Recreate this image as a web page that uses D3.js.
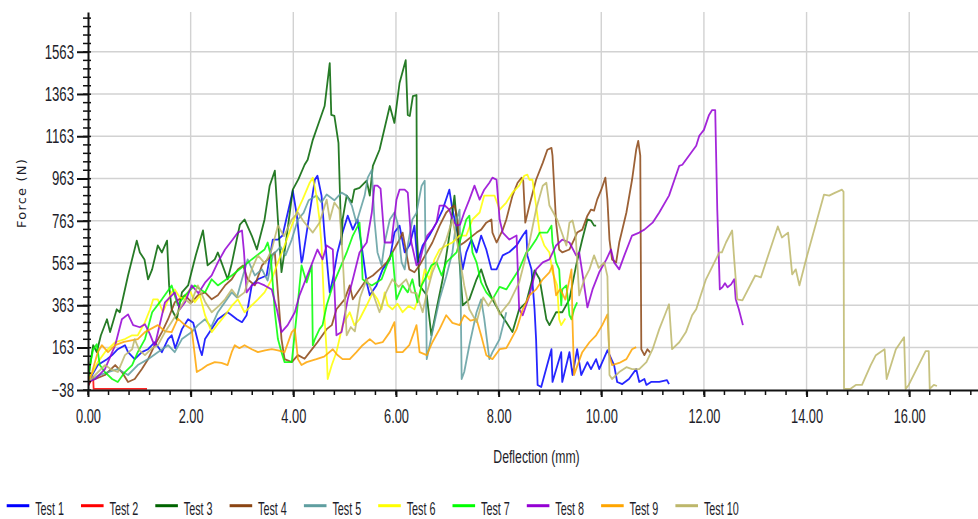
<!DOCTYPE html>
<html>
<head>
<meta charset="utf-8">
<script src="https://cdn.jsdelivr.net/npm/d3@7"></script>
<style>
body { margin: 0; background: #fff; }
svg { display: block; }
</style>
</head>
<body>
<svg width="978" height="519"></svg>
<script>
// deflection (mm), force (N)
var names = ["Test 1", "Test 2", "Test 3", "Test 4", "Test 5", "Test 6", "Test 7", "Test 8", "Test 9", "Test 10"];
var colors = ["#0000ff", "#ff0000", "#006400", "#8b4513", "#5f9ea0", "#ffff00", "#00ff00", "#9400d3", "#ffa500", "#bdb76b"];

var xTicks = [0, 2, 4, 6, 8, 10, 12, 14, 16];
var yTicks = [-38, 163, 363, 563, 763, 963, 1163, 1363, 1563];

var test1 = [[0,-20],[0.08,33],[0.19,80],[0.37,108],[0.47,127],[0.58,155],[0.72,174],[0.78,141],[0.91,108],[1.05,141],[1.17,155],[1.3,188],[1.44,141],[1.56,203],[1.63,221],[1.7,160],[1.83,250],[1.95,297],[2.05,280],[2.18,155],[2.22,127],[2.28,203],[2.37,236],[2.53,297],[2.72,330],[2.8,316],[2.9,297],[3.0,283],[3.09,316],[3.19,457],[3.31,486],[3.48,504],[3.6,674],[3.7,674],[3.79,693],[3.99,905],[4.07,787],[4.16,566],[4.18,580],[4.32,802],[4.42,957],[4.47,976],[4.55,882],[4.61,693],[4.71,424],[4.77,486],[4.86,613],[4.96,707],[5.06,787],[5.16,721],[5.25,769],[5.33,646],[5.43,471],[5.49,410],[5.62,457],[5.74,533],[5.88,580],[5.97,707],[6.07,740],[6.17,613],[6.27,650],[6.36,740],[6.42,566],[6.52,646],[6.65,693],[6.79,754],[6.91,816],[7.04,910],[7.1,816],[7.2,707],[7.3,533],[7.37,613],[7.47,674],[7.57,613],[7.66,693],[7.76,627],[7.86,533],[7.96,533],[8.08,599],[8.21,615],[8.35,646],[8.47,693],[8.54,717],[8.56,599],[8.64,533],[8.7,344],[8.73,203],[8.76,-14],[8.83,-24],[9.03,155],[9.05,0],[9.22,141],[9.24,0],[9.38,141],[9.44,33],[9.53,155],[9.61,33],[9.73,94],[9.8,61],[9.9,108],[9.96,61],[10.12,150],[10.25,80],[10.31,0],[10.41,-10],[10.54,14],[10.68,61],[10.74,0],[10.84,14],[10.88,-14],[10.97,0],[11.13,0],[11.28,9],[11.32,-10]];

var test2 = [[0,-20],[0.1,25],[0.11,-33],[1.15,-33]];

var test3 = [[0,0],[0.03,61],[0.1,174],[0.17,141],[0.25,220],[0.37,297],[0.43,236],[0.56,344],[0.62,330],[0.78,504],[0.95,669],[1.01,613],[1.1,580],[1.17,486],[1.25,533],[1.36,646],[1.44,613],[1.54,669],[1.58,457],[1.63,344],[1.73,297],[1.83,424],[1.95,457],[2.1,600],[2.24,717],[2.33,552],[2.47,580],[2.53,613],[2.72,486],[2.8,560],[2.96,745],[3.05,769],[3.19,693],[3.29,627],[3.44,769],[3.54,929],[3.64,1000],[3.7,769],[3.77,520],[3.85,650],[3.99,910],[4.1,960],[4.22,1028],[4.28,1052],[4.38,1146],[4.51,1236],[4.61,1306],[4.71,1509],[4.74,1264],[4.8,1259],[4.88,1132],[4.92,800],[4.94,651],[4.96,769],[5.04,882],[5.14,849],[5.19,910],[5.29,919],[5.43,953],[5.49,882],[5.55,1023],[5.68,1099],[5.88,1306],[5.97,1226],[6.07,1415],[6.19,1523],[6.23,1264],[6.27,1259],[6.33,1353],[6.4,1358],[6.41,693],[6.46,457],[6.6,410],[6.69,221],[6.79,344],[6.91,486],[7.04,693],[7.14,882],[7.18,769],[7.24,566],[7.3,363],[7.43,391],[7.57,486],[7.66,533],[7.76,457],[7.88,391],[8.02,330],[8.15,283],[8.27,236],[8.4,344],[8.54,377],[8.7,528],[8.8,486],[8.93,297],[8.99,269],[9.12,330],[9.24,330],[9.38,391],[9.51,552],[9.63,674],[9.73,769],[9.8,764],[9.86,740],[9.9,740]];

var test4 = [[0,0],[0.33,33],[0.53,80],[0.66,47],[0.78,0],[0.91,14],[1.05,61],[1.17,108],[1.3,174],[1.44,236],[1.56,297],[1.69,377],[1.89,410],[2.02,377],[2.14,410],[2.28,424],[2.41,391],[2.53,410],[2.67,457],[2.8,486],[2.92,533],[3.02,552],[3.11,486],[3.25,457],[3.39,552],[3.5,580],[3.64,613],[3.77,203],[3.83,108],[3.97,94],[4.09,127],[4.22,110],[4.32,141],[4.47,188],[4.65,250],[4.75,269],[4.84,344],[5.0,391],[5.1,457],[5.16,391],[5.29,438],[5.43,486],[5.55,504],[5.68,533],[5.82,566],[5.93,613],[6.07,674],[6.13,707],[6.2,613],[6.26,533],[6.36,519],[6.46,552],[6.71,660],[6.85,740],[6.98,802],[7.08,825],[7.14,835],[7.2,769],[7.24,646],[7.33,660],[7.57,707],[7.66,721],[7.76,754],[7.86,769],[7.88,707],[7.96,660],[8.08,720],[8.15,769],[8.27,882],[8.37,943],[8.45,967],[8.48,952],[8.52,754],[8.6,835],[8.73,957],[8.86,1037],[8.95,1099],[9.03,1108],[9.05,1071],[9.12,754],[9.18,627],[9.24,613],[9.38,627],[9.47,674],[9.53,707],[9.63,721],[9.73,787],[9.8,816],[9.86,811],[9.92,863],[10.0,910],[10.08,967],[10.12,863],[10.16,674],[10.21,580],[10.29,566],[10.35,660],[10.49,802],[10.6,957],[10.68,1099],[10.72,1141],[10.76,1071],[10.78,155],[10.84,127],[10.9,155],[10.95,140]];

var test5 = [[0,0],[0.2,30],[0.39,47],[0.58,61],[0.78,33],[0.97,80],[1.17,108],[1.36,141],[1.56,174],[1.69,141],[1.83,203],[2.02,236],[2.14,269],[2.28,297],[2.4,260],[2.53,330],[2.8,424],[2.9,400],[3.0,486],[3.11,580],[3.25,504],[3.39,533],[3.5,480],[3.6,600],[3.75,640],[3.85,600],[3.97,674],[4.09,769],[4.2,800],[4.3,860],[4.45,882],[4.55,850],[4.65,887],[4.8,860],[4.94,896],[5.04,882],[5.14,835],[5.23,754],[5.29,802],[5.39,882],[5.45,967],[5.53,1004],[5.58,769],[5.64,613],[5.72,552],[5.78,660],[5.88,769],[5.97,802],[6.03,754],[6.11,566],[6.17,533],[6.23,646],[6.32,769],[6.4,800],[6.5,929],[6.56,952],[6.6,108],[6.71,236],[6.85,391],[6.98,500],[7.1,613],[7.18,769],[7.24,816],[7.28,14],[7.33,47],[7.43,174],[7.57,330],[7.66,391],[7.72,300],[7.82,108],[7.88,141],[8.02,203],[8.15,330]];

var test6 = [[0,0],[0.1,50],[0.19,94],[0.33,141],[0.53,188],[0.72,203],[0.86,221],[0.97,221],[1.11,283],[1.21,344],[1.27,391],[1.36,391],[1.46,330],[1.54,377],[1.63,424],[1.69,438],[1.79,400],[1.89,391],[1.98,438],[2.08,377],[2.18,410],[2.28,316],[2.41,236],[2.55,280],[2.67,316],[2.8,360],[2.92,391],[3.05,330],[3.18,360],[3.31,391],[3.44,424],[3.58,486],[3.7,566],[3.83,646],[3.97,740],[4.09,816],[4.18,863],[4.32,943],[4.38,967],[4.45,882],[4.51,769],[4.55,646],[4.57,533],[4.61,297],[4.65,141],[4.67,14],[4.75,80],[4.84,141],[4.96,269],[5.1,330],[5.19,269],[5.29,297],[5.43,363],[5.55,424],[5.64,391],[5.72,344],[5.78,424],[5.84,363],[5.93,344],[6.03,370],[6.13,330],[6.25,360],[6.36,344],[6.46,410],[6.56,533],[6.65,486],[6.75,580],[6.85,627],[6.98,646],[7.1,660],[7.24,693],[7.37,693],[7.49,769],[7.63,802],[7.72,882],[7.82,882],[7.92,882],[8.02,816],[8.15,849],[8.27,896],[8.4,929],[8.5,976],[8.56,981],[8.6,957],[8.66,957],[8.73,835],[8.8,707],[8.89,646],[8.99,613],[9.05,519],[9.14,457],[9.18,297],[9.22,269],[9.3,300]];

var test7 = [[0,0],[0.04,80],[0.1,155],[0.17,179],[0.23,80],[0.33,47],[0.47,14],[0.58,0],[0.72,47],[0.86,80],[0.97,141],[1.11,203],[1.25,330],[1.44,391],[1.63,457],[1.75,363],[1.89,410],[2.08,457],[2.28,424],[2.41,486],[2.53,457],[2.8,504],[3.05,552],[3.19,580],[3.44,627],[3.5,660],[3.56,600],[3.64,330],[3.7,203],[3.77,141],[3.83,94],[3.97,94],[4.09,377],[4.16,552],[4.26,471],[4.36,552],[4.38,174],[4.42,203],[4.51,250],[4.57,269],[4.65,363],[4.77,457],[4.9,533],[5.04,613],[5.16,693],[5.29,754],[5.33,613],[5.35,486],[5.43,471],[5.53,457],[5.72,486],[5.82,552],[5.93,613],[6.01,391],[6.13,457],[6.23,424],[6.32,486],[6.42,377],[6.5,457],[6.6,504],[6.69,552],[6.79,566],[6.89,504],[6.98,566],[7.18,613],[7.28,693],[7.37,769],[7.43,787],[7.49,613],[7.57,566],[7.66,471],[7.76,424],[7.88,391],[8.02,450],[8.15,438],[8.4,533],[8.54,613],[8.6,627],[8.73,674],[8.8,707],[8.95,707],[9.03,740],[9.05,660],[9.12,566],[9.18,533],[9.22,363],[9.24,438],[9.32,457],[9.38,316],[9.42,297],[9.47,344],[9.53,377]];

var test8 = [[0,0],[0.14,14],[0.33,61],[0.53,174],[0.66,297],[0.78,320],[0.88,269],[1.01,259],[1.11,273],[1.2,230],[1.3,170],[1.5,377],[1.69,424],[1.79,344],[1.89,377],[2.02,457],[2.15,420],[2.28,470],[2.41,504],[2.53,566],[2.67,627],[2.82,674],[2.92,707],[3.0,717],[3.04,613],[3.09,424],[3.19,457],[3.31,471],[3.44,457],[3.58,438],[3.68,344],[3.77,236],[3.89,269],[4.03,330],[4.12,410],[4.32,533],[4.47,627],[4.57,580],[4.65,646],[4.77,627],[4.84,221],[4.94,236],[5.06,391],[5.16,486],[5.29,613],[5.43,660],[5.53,802],[5.58,929],[5.64,929],[5.7,915],[5.78,660],[5.91,660],[6.01,863],[6.07,910],[6.17,910],[6.23,896],[6.3,660],[6.4,552],[6.46,566],[6.52,627],[6.61,693],[6.71,721],[6.79,754],[6.85,835],[6.95,835],[7.04,816],[7.1,769],[7.18,740],[7.25,745],[7.33,802],[7.43,863],[7.53,929],[7.63,863],[7.72,910],[7.82,943],[7.88,967],[7.96,957],[8.02,769],[8.08,707],[8.21,674],[8.35,693],[8.4,344],[8.47,316],[8.6,410],[8.73,533],[8.86,566],[8.99,580],[9.12,646],[9.24,674],[9.38,660],[9.51,599],[9.57,613],[9.63,519],[9.73,353],[9.83,438],[9.96,519],[10.1,580],[10.19,627],[10.25,566],[10.35,533],[10.45,599],[10.6,693],[10.74,707],[10.84,721],[11.0,754],[11.13,802],[11.32,882],[11.52,1023],[11.58,1028],[11.75,1085],[11.85,1118],[11.91,1165],[12.0,1193],[12.1,1264],[12.16,1287],[12.22,1287],[12.26,816],[12.31,438],[12.36,448],[12.41,467],[12.46,448],[12.53,462],[12.59,486],[12.62,391],[12.68,344],[12.76,269]];

var test9 = [[0,0],[0.08,47],[0.19,141],[0.27,174],[0.39,141],[0.53,174],[0.7,190],[0.97,203],[1.11,236],[1.36,269],[1.5,240],[1.63,236],[1.75,300],[1.89,269],[2.02,250],[2.12,47],[2.22,61],[2.33,80],[2.47,94],[2.6,90],[2.72,80],[2.8,141],[2.86,174],[2.95,160],[3.05,174],[3.19,155],[3.31,141],[3.45,150],[3.58,155],[3.7,150],[3.83,141],[3.97,236],[4.03,250],[4.09,108],[4.16,80],[4.26,94],[4.45,108],[4.6,120],[4.77,155],[4.85,130],[4.96,108],[5.1,108],[5.23,141],[5.35,174],[5.49,203],[5.6,180],[5.74,188],[5.88,236],[5.97,283],[6.01,141],[6.13,141],[6.26,174],[6.4,269],[6.46,141],[6.6,127],[6.71,188],[6.85,250],[6.98,316],[7.1,280],[7.24,269],[7.33,316],[7.45,290],[7.57,297],[7.66,220],[7.76,127],[7.88,108],[8.02,155],[8.15,160],[8.35,250],[8.47,344],[8.6,410],[8.73,438],[8.86,486],[8.99,519],[9.05,552],[9.12,410],[9.2,440],[9.3,390],[9.42,533],[9.44,283],[9.47,33],[9.51,61],[9.63,141],[9.77,188],[9.9,221],[10.02,269],[10.12,320],[10.16,127],[10.21,80],[10.35,90],[10.49,108],[10.6,155],[10.68,165]];

var test10 = [[0,0],[0.14,33],[0.33,80],[0.45,60],[0.58,47],[0.72,127],[0.86,155],[0.91,203],[1.0,150],[1.11,127],[1.25,160],[1.36,174],[1.5,236],[1.62,280],[1.75,330],[1.89,391],[2.0,370],[2.14,457],[2.28,380],[2.41,330],[2.55,360],[2.67,391],[2.8,438],[2.92,400],[3.05,424],[3.19,533],[3.31,599],[3.45,560],[3.58,627],[3.7,740],[3.82,690],[3.97,769],[4.09,802],[4.2,760],[4.38,707],[4.51,754],[4.65,863],[4.71,769],[4.8,849],[4.9,816],[4.96,600],[5.04,221],[5.12,260],[5.2,240],[5.3,400],[5.43,486],[5.55,420],[5.68,330],[5.8,420],[5.93,486],[6.05,450],[6.2,486],[6.3,424],[6.4,420],[6.52,330],[6.6,420],[6.71,519],[6.85,600],[6.98,674],[7.1,769],[7.2,650],[7.33,457],[7.43,344],[7.57,283],[7.7,400],[7.8,360],[7.9,400],[8.02,320],[8.21,377],[8.4,471],[8.6,660],[8.73,816],[8.86,929],[8.93,943],[8.99,835],[9.14,769],[9.32,646],[9.38,754],[9.44,764],[9.5,700],[9.57,410],[9.67,486],[9.77,533],[9.86,599],[9.95,540],[10.06,566],[10.12,500],[10.16,33],[10.21,14],[10.35,47],[10.49,70],[10.6,61],[10.74,61],[10.88,94],[11.0,155],[11.13,250],[11.26,330],[11.32,368],[11.38,155],[11.52,188],[11.65,236],[11.77,316],[11.85,344],[12.04,486],[12.3,613],[12.35,613],[12.43,660],[12.55,717],[12.59,580],[12.65,391],[12.75,386],[13.0,504],[13.11,495],[13.44,736],[13.52,684],[13.64,707],[13.72,509],[13.79,533],[13.86,457],[13.99,580],[14.34,887],[14.44,882],[14.55,895],[14.69,910],[14.72,900],[14.73,-33],[14.85,-33],[14.96,-14],[15.08,-14],[15.25,80],[15.35,127],[15.52,155],[15.56,14],[15.74,155],[15.9,212],[15.93,-33],[15.99,-14],[16.32,146],[16.38,146],[16.4,-33],[16.48,-14],[16.54,-19]];

var series = [test1, test2, test3, test4, test5, test6, test7, test8, test9, test10];

var svg = d3.select("svg"),
    width = +svg.attr("width"),
    height = +svg.attr("height");

var fontFam = "'Liberation Sans', Arial, sans-serif";
var textCol = "#1e1e2a";

var x = d3.scaleLinear().domain([0, 17.34]).range([88, 978]);
var y = d3.scaleLinear().domain([-38, 1751]).range([390, 12]);

svg.append("defs").append("clipPath").attr("id", "plot")
    .append("rect")
    .attr("x", x(0)).attr("y", y(1751))
    .attr("width", x(17.34) - x(0)).attr("height", y(-38) - y(1751));

// grid
svg.append("g")
    .selectAll("line")
    .data(yTicks.slice(1))
    .enter().append("line")
    .attr("x1", x(0)).attr("x2", x(17.34))
    .attr("y1", function (d) { return y(d); })
    .attr("y2", function (d) { return y(d); })
    .attr("stroke", "#d2d2d2").attr("stroke-width", 1.6);

svg.append("g")
    .selectAll("line")
    .data(xTicks.slice(1))
    .enter().append("line")
    .attr("x1", function (d) { return x(d); })
    .attr("x2", function (d) { return x(d); })
    .attr("y1", y(1751)).attr("y2", y(-38))
    .attr("stroke", "#d2d2d2").attr("stroke-width", 1.4);

// curves
var line = d3.line()
    .x(function (d) { return x(d[0]); })
    .y(function (d) { return y(d[1]); });

svg.append("g")
    .attr("clip-path", "url(#plot)")
    .selectAll("path")
    .data(series)
    .enter().append("path")
    .attr("d", line)
    .attr("fill", "none")
    .attr("stroke", function (d, i) { return colors[i]; })
    .attr("stroke-width", 1.8)
    .attr("stroke-linejoin", "round")
    .attr("opacity", 0.85);

// minor ticks
svg.append("g")
    .selectAll("line")
    .data(d3.range(-38, 1751, 40))
    .enter().append("line")
    .attr("x1", x(0) - 5).attr("x2", x(0) + 3)
    .attr("y1", function (d) { return y(d); })
    .attr("y2", function (d) { return y(d); })
    .attr("stroke", "#111").attr("stroke-width", 1.5);

svg.append("g")
    .selectAll("line")
    .data(d3.range(0, 17.34, 0.4))
    .enter().append("line")
    .attr("x1", function (d) { return x(d); })
    .attr("x2", function (d) { return x(d); })
    .attr("y1", y(-38)).attr("y2", y(-38) + 5)
    .attr("stroke", "#111").attr("stroke-width", 1.5);

// axes
var yAxis = svg.append("g")
    .attr("transform", "translate(" + x(0) + ",0)")
    .call(d3.axisLeft(y).tickValues(yTicks).tickSize(11).tickSizeOuter(0).tickFormat(d3.format("d")));

var xAxis = svg.append("g")
    .attr("transform", "translate(0," + y(-38) + ")")
    .call(d3.axisBottom(x).tickValues(xTicks).tickSize(7).tickSizeOuter(0).tickFormat(d3.format(".2f")));

[yAxis, xAxis].forEach(function (a) {
    a.select(".domain").attr("stroke", "#111").attr("stroke-width", 2);
    a.selectAll(".tick line").attr("stroke", "#111").attr("stroke-width", 2);
    a.selectAll("text")
        .attr("font-family", fontFam)
        .attr("font-size", 20)
        .attr("fill", textCol);
});

yAxis.selectAll("text")
    .attr("x", 0)
    .attr("transform", "translate(-14,0) scale(0.66,1)");

xAxis.selectAll("text")
    .attr("y", 19)
    .attr("transform", "scale(0.64,1)");

// axis titles
svg.append("text")
    .attr("transform", "translate(21,193) rotate(-90)")
    .attr("text-anchor", "middle")
    .attr("dominant-baseline", "central")
    .attr("font-family", "'DejaVu Sans', Verdana, sans-serif")
    .attr("font-size", 13)
    .attr("letter-spacing", 1.2)
    .attr("fill", textCol)
    .text("Force (N)");

svg.append("text")
    .attr("transform", "translate(536.5,462.5) scale(0.7,1)")
    .attr("text-anchor", "middle")
    .attr("font-family", fontFam)
    .attr("font-size", 17.5)
    .attr("fill", textCol)
    .text("Deflection (mm)");

// legend
var legend = svg.append("g")
    .selectAll("g")
    .data(names)
    .enter().append("g")
    .attr("transform", function (d, i) { return "translate(" + (6.7 + i * 74.3) + ",0)"; });

legend.append("line")
    .attr("x1", 0).attr("x2", 22.6)
    .attr("y1", 505.7).attr("y2", 505.7)
    .attr("stroke", function (d, i) { return colors[i]; })
    .attr("stroke-width", 3);

legend.append("text")
    .attr("transform", "translate(28.5,515) scale(0.58,1)")
    .attr("font-family", fontFam)
    .attr("font-size", 18.6)
    .attr("fill", textCol)
    .text(function (d) { return d; });
</script>
</body>
</html>
